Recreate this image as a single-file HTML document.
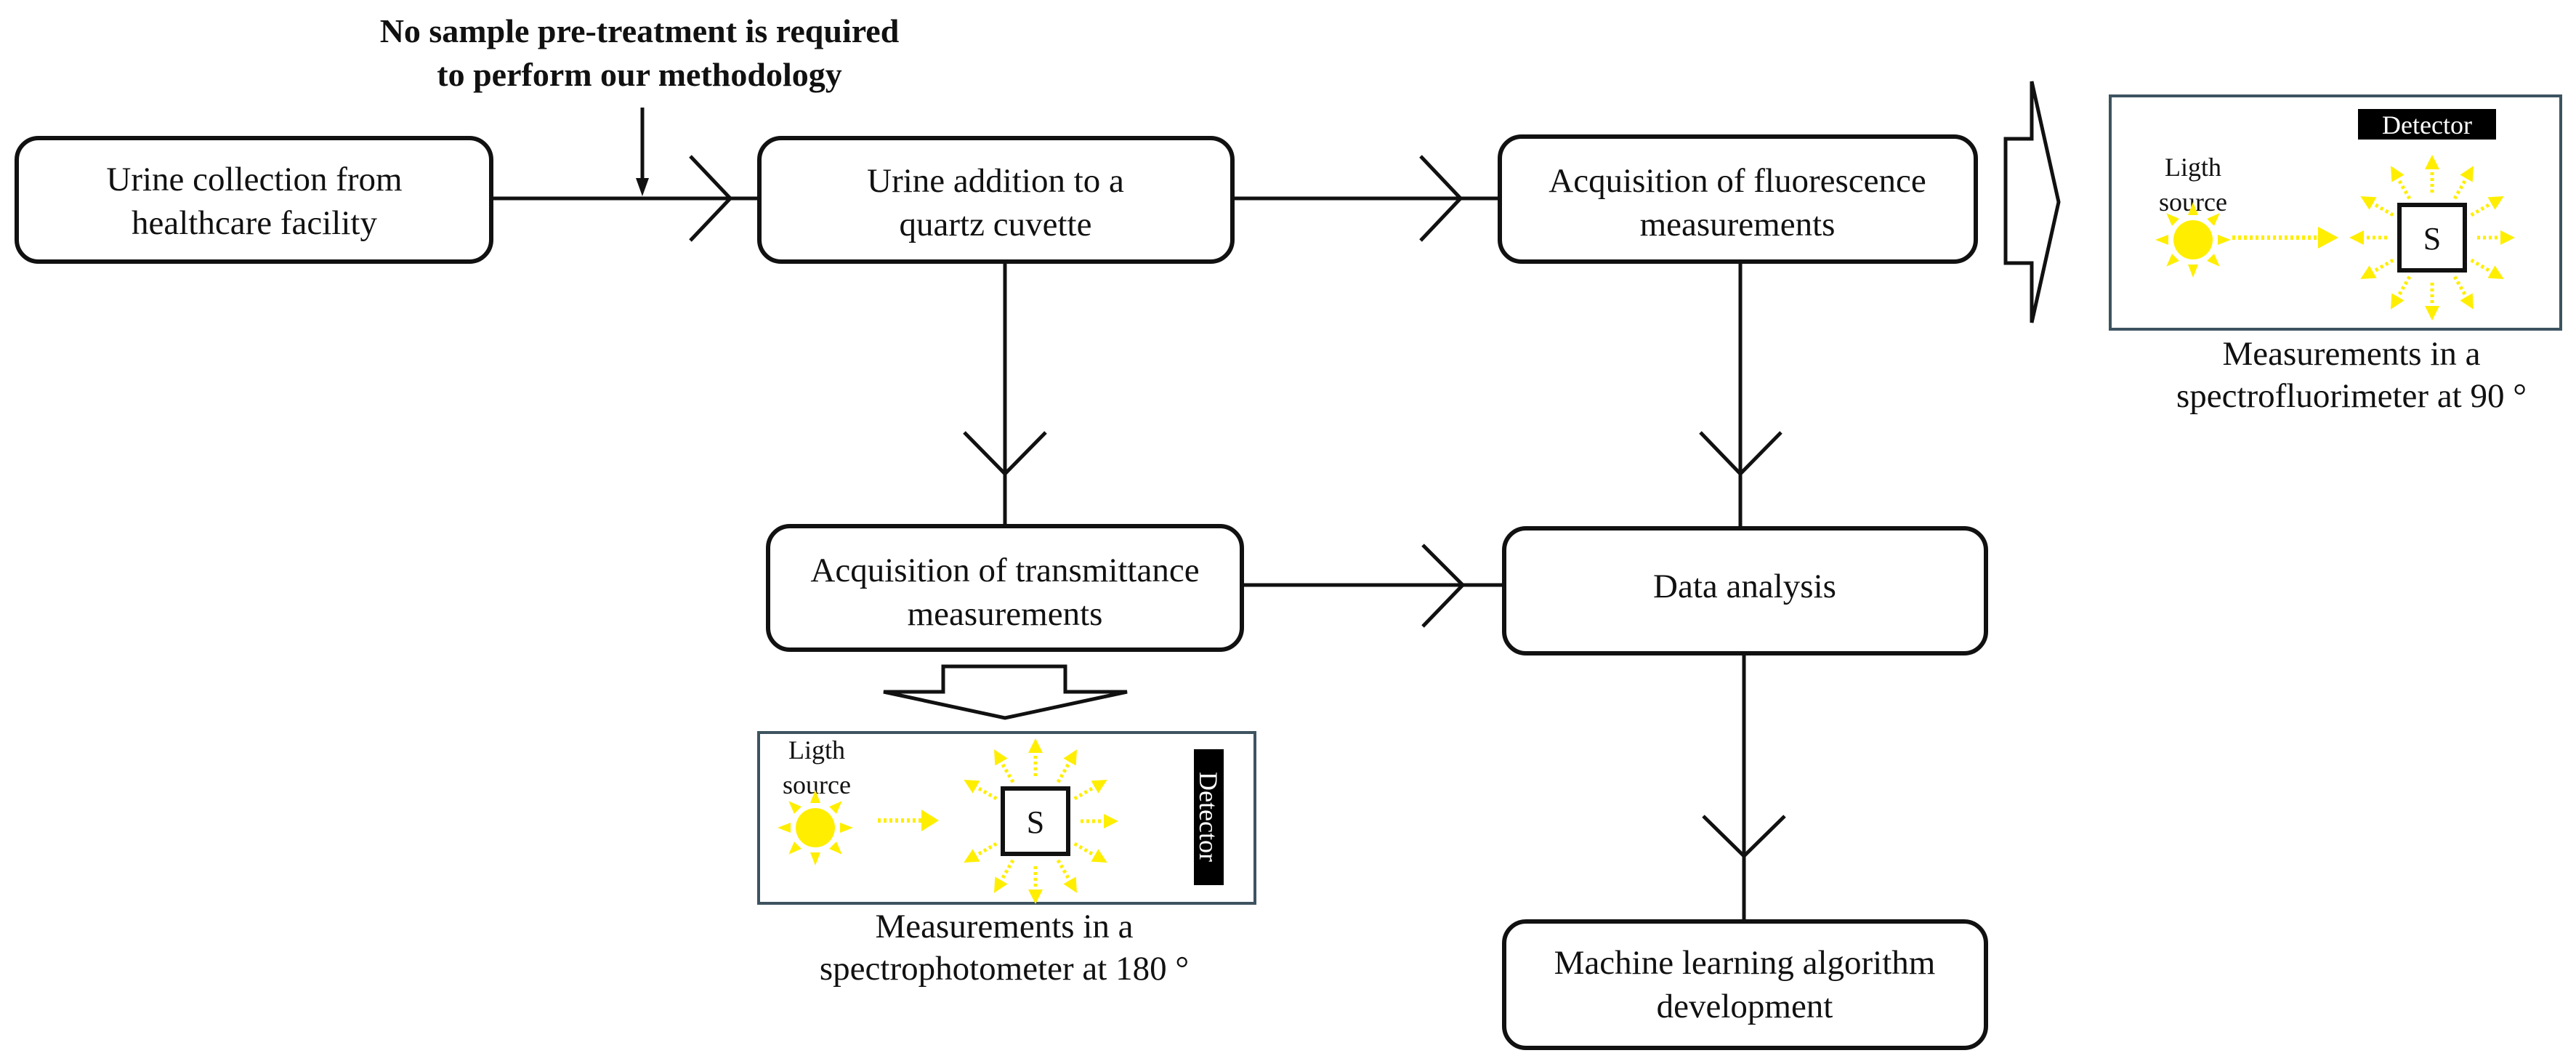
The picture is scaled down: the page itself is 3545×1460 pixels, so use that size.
<!DOCTYPE html>
<html><head><meta charset="utf-8"><style>
html,body{margin:0;padding:0;background:#fff;}
svg{display:block;}
text{font-family:"Liberation Serif",serif;fill:#111;}
</style></head><body>
<svg width="3545" height="1460" viewBox="0 0 3545 1460" xmlns="http://www.w3.org/2000/svg">
<defs>
<marker id="ya" viewBox="0 0 10 10" refX="2" refY="5" markerWidth="4" markerHeight="4" orient="auto" markerUnits="strokeWidth">
<path d="M0,0 L10,5 L0,10 z" fill="#ffee00"/></marker>
<g id="ray"><line x1="62" y1="0" x2="98" y2="0" stroke="#ffee00" stroke-width="5" stroke-dasharray="4,4" marker-end="url(#ya)"/></g>
<g id="sun">
<circle r="27" fill="#ffee00"/>
<g fill="#ffee00">
<path d="M-7,-34 L7,-34 L0,-52 z"/><path d="M-7,34 L7,34 L0,52 z"/>
<path d="M-34,-7 L-34,7 L-52,0 z"/><path d="M34,-7 L34,7 L52,0 z"/>
<path d="M-7,-34 L7,-34 L0,-52 z" transform="rotate(45)"/><path d="M-7,-34 L7,-34 L0,-52 z" transform="rotate(135)"/>
<path d="M-7,-34 L7,-34 L0,-52 z" transform="rotate(225)"/><path d="M-7,-34 L7,-34 L0,-52 z" transform="rotate(315)"/>
</g></g>
</defs>

<!-- title -->
<text x="880" y="58" font-size="46" font-weight="bold" text-anchor="middle">No sample pre-treatment is required</text>
<text x="880" y="118" font-size="46" font-weight="bold" text-anchor="middle">to perform our methodology</text>
<line x1="884" y1="148" x2="884" y2="250" stroke="#111" stroke-width="5"/>
<path d="M875,245 L893,245 L884,270 z" fill="#111"/>

<g fill="#fff" stroke="#111" stroke-width="6">
<rect x="23" y="190" width="653" height="170" rx="30"/>
<rect x="1045" y="190" width="651" height="170" rx="30"/>
<rect x="2064" y="188" width="655" height="172" rx="30"/>
<rect x="1057" y="724" width="652" height="170" rx="30"/>
<rect x="2070" y="727" width="663" height="172" rx="30"/>
<rect x="2070" y="1268" width="663" height="174" rx="30"/>
</g>

<g font-size="47" text-anchor="middle">
<text x="350" y="262">Urine collection from</text>
<text x="350" y="322">healthcare facility</text>
<text x="1370" y="264">Urine addition to a</text>
<text x="1370" y="324">quartz cuvette</text>
<text x="2391" y="264">Acquisition of fluorescence</text>
<text x="2391" y="324">measurements</text>
<text x="1383" y="800">Acquisition of transmittance</text>
<text x="1383" y="860">measurements</text>
<text x="2401" y="822">Data analysis</text>
<text x="2401" y="1340">Machine learning algorithm</text>
<text x="2401" y="1400">development</text>
</g>

<g stroke="#111" stroke-width="5" fill="none">
<line x1="676" y1="273" x2="1045" y2="273"/>
<polyline points="950,215 1005,273 950,331"/>
<line x1="1696" y1="273" x2="2064" y2="273"/>
<polyline points="1955,215 2010,273 1955,331"/>
<line x1="1383" y1="360" x2="1383" y2="724"/>
<polyline points="1327,595 1383,652 1439,595"/>
<line x1="2395" y1="360" x2="2395" y2="727"/>
<polyline points="2340,595 2395,652 2451,595"/>
<line x1="1709" y1="805" x2="2070" y2="805"/>
<polyline points="1958,750 2013,805 1958,862"/>
<line x1="2400" y1="899" x2="2400" y2="1268"/>
<polyline points="2344,1123 2400,1178 2456,1123"/>
</g>

<!-- hollow arrows -->
<path d="M2760,191 L2796,191 L2796,112 L2833,278 L2796,444 L2796,362 L2760,362 z" fill="#fff" stroke="#111" stroke-width="5" stroke-linejoin="miter"/>
<path d="M1298,917 L1466,917 L1466,952 L1551,952 L1383,988 L1216,952 L1298,952 z" fill="#fff" stroke="#111" stroke-width="5"/>

<!-- fluoro panel -->
<rect x="2904" y="132" width="620" height="321" fill="#fff" stroke="#3d5360" stroke-width="4"/>
<rect x="3245" y="150" width="190" height="42" fill="#000"/>
<text x="3340" y="184" font-size="36" text-anchor="middle" style="fill:#fff">Detector</text>
<text x="3018" y="242" font-size="36" text-anchor="middle">Ligth</text>
<text x="3018" y="290" font-size="36" text-anchor="middle">source</text>
<use href="#sun" x="3018" y="330"/>
<line x1="3072" y1="327" x2="3192" y2="327" stroke="#ffee00" stroke-width="6" stroke-dasharray="4,4"/>
<path d="M3190,312 L3218,327 L3190,342 z" fill="#ffee00"/>
<g transform="translate(3347,327)">
<use href="#ray" transform="rotate(0)"/><use href="#ray" transform="rotate(30)"/><use href="#ray" transform="rotate(60)"/>
<use href="#ray" transform="rotate(90)"/><use href="#ray" transform="rotate(120)"/><use href="#ray" transform="rotate(150)"/>
<use href="#ray" transform="rotate(180)"/><use href="#ray" transform="rotate(210)"/><use href="#ray" transform="rotate(240)"/>
<use href="#ray" transform="rotate(270)"/><use href="#ray" transform="rotate(300)"/><use href="#ray" transform="rotate(330)"/>
<rect x="-45" y="-45" width="90" height="90" fill="#fff" stroke="#111" stroke-width="6"/>
<text x="0" y="16" font-size="44" text-anchor="middle">S</text>
</g>
<text x="3236" y="502" font-size="47" text-anchor="middle">Measurements in a</text>
<text x="3236" y="560" font-size="47" text-anchor="middle">spectrofluorimeter at 90 °</text>

<!-- transmit panel -->
<rect x="1044" y="1008" width="683" height="235" fill="#fff" stroke="#3d5360" stroke-width="4"/>
<rect x="1643" y="1031" width="41" height="187" fill="#000"/>
<text transform="translate(1651,1124) rotate(90)" font-size="36" text-anchor="middle" style="fill:#fff">Detector</text>
<text x="1124" y="1044" font-size="36" text-anchor="middle">Ligth</text>
<text x="1124" y="1092" font-size="36" text-anchor="middle">source</text>
<use href="#sun" x="1122" y="1139"/>
<line x1="1208" y1="1129" x2="1270" y2="1129" stroke="#ffee00" stroke-width="6" stroke-dasharray="4,4"/>
<path d="M1268,1114 L1292,1129 L1268,1144 z" fill="#ffee00"/>
<g transform="translate(1425,1130)">
<use href="#ray" transform="rotate(0)"/><use href="#ray" transform="rotate(30)"/><use href="#ray" transform="rotate(60)"/>
<use href="#ray" transform="rotate(90)"/><use href="#ray" transform="rotate(120)"/><use href="#ray" transform="rotate(150)"/>
<use href="#ray" transform="rotate(210)"/><use href="#ray" transform="rotate(240)"/>
<use href="#ray" transform="rotate(270)"/><use href="#ray" transform="rotate(300)"/><use href="#ray" transform="rotate(330)"/>
<rect x="-45" y="-45" width="90" height="90" fill="#fff" stroke="#111" stroke-width="6"/>
<text x="0" y="16" font-size="44" text-anchor="middle">S</text>
</g>
<text x="1382" y="1290" font-size="47" text-anchor="middle">Measurements in a</text>
<text x="1382" y="1348" font-size="47" text-anchor="middle">spectrophotometer at 180 °</text>
</svg>
</body></html>
